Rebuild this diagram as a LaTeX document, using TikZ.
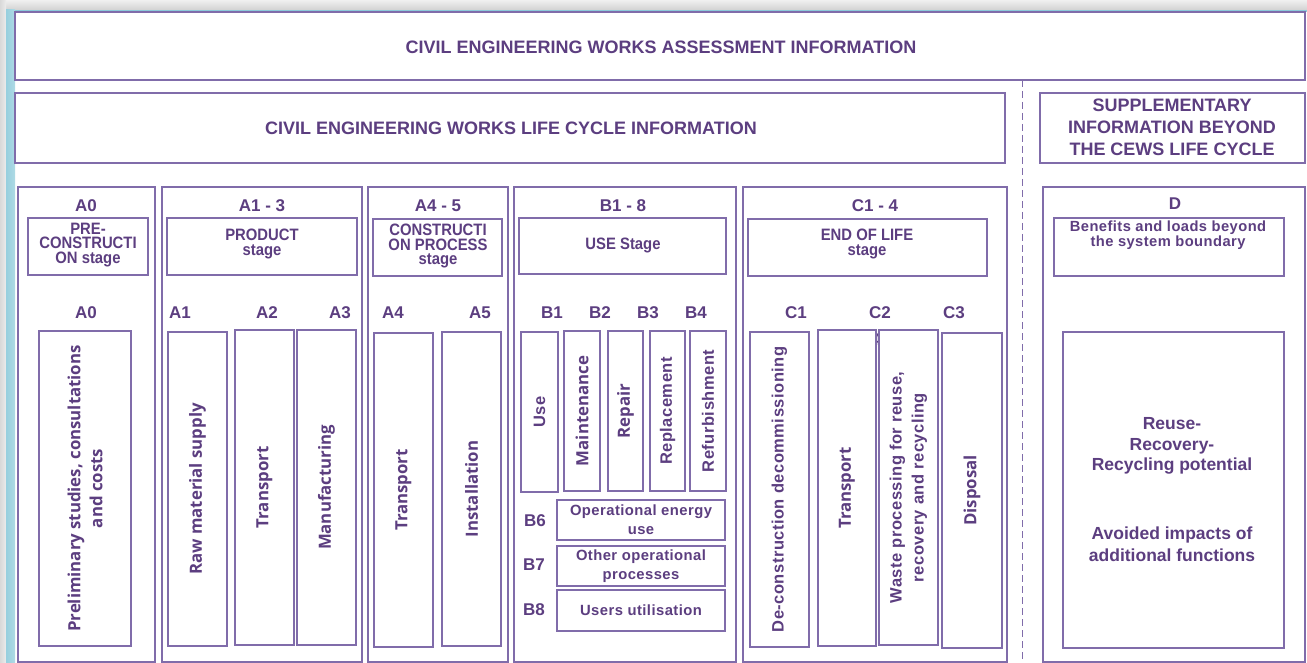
\documentclass[tikz,border=0pt]{standalone}
\usepackage{fontspec}
\setmainfont{Liberation Sans}
\newfontfamily\vfont{Open Sans}
\newfontfamily\trkfont[LetterSpace=3]{Liberation Sans}
\newfontfamily\cndfont[FakeStretch=0.9]{Liberation Sans}
\definecolor{lc}{RGB}{128,108,170}
\definecolor{tc}{RGB}{92,62,128}
\definecolor{frcyan}{RGB}{140,202,218}
\newcommand\mybox[5]{%
  \pgfmathsetmacro\bw{#4-#2}\pgfmathsetmacro\bh{#5-#3}%
  \node[box, minimum width=\bw pt, minimum height=\bh pt] (#1) at ({(#2+#4)/2},{(#3+#5)/2}) {};}
\tikzset{
  box/.style={draw=lc, line width=1.1pt, fill=white, inner sep=0pt},
  ttl/.style={text=tc, font=\bfseries\fontsize{18}{22}\selectfont, align=center, inner sep=0pt},
  hdr/.style={text=tc, font=\bfseries\fontsize{17}{17}\selectfont, inner sep=0pt},
  stg/.style={text=tc, font=\cndfont\bfseries\fontsize{16.5}{14.5}\selectfont, align=center, inner sep=0pt},
  vt/.style={text=tc, font=\vfont\bfseries\fontsize{16.8}{22}\selectfont, align=center, rotate=90, inner sep=0pt},
  vta/.style={text=tc, font=\trkfont\bfseries\fontsize{16.5}{22}\selectfont, align=center, rotate=90, inner sep=0pt},
  ht/.style={text=tc, font=\trkfont\bfseries\fontsize{14.8}{19}\selectfont, align=center, inner sep=0pt},
  dt/.style={text=tc, font=\bfseries\fontsize{17.5}{20.5}\selectfont, align=center, inner sep=0pt},
  dash line/.style={draw=lc, line width=1pt, dash pattern=on 7pt off 4pt}
}
\begin{document}
\begin{tikzpicture}[x=1pt, y=-1pt]
\useasboundingbox (0,0) rectangle (1307,663);
% frame
\fill[white] (0,0) rectangle (1307,663);
\shade[top color=gray!12, bottom color=gray!35] (0,0) rectangle (1307,10);
\fill[frcyan] (0,10) rectangle (1307,12);
\shade[left color=gray!30, right color=gray!15] (0,0) rectangle (6,663);
\shade[left color=frcyan!90, right color=frcyan!70] (6,10) rectangle (15,663);

% top boxes
\mybox{top}{15}{12}{1305}{80}
\node[ttl] (toptxt) at (661,47) {CIVIL ENGINEERING WORKS ASSESSMENT INFORMATION};
\mybox{lc}{15}{93}{1005}{163}
\node[ttl] (lctxt) at (511,128) {CIVIL ENGINEERING WORKS LIFE CYCLE INFORMATION};
\mybox{sup}{1040}{93}{1305}{163}
\node[ttl] (suptxt) at (1172,127) {SUPPLEMENTARY\\INFORMATION BEYOND\\THE CEWS LIFE CYCLE};

\coordinate (d1) at (1022,80);
\coordinate (d2) at (1022,663);
\draw[dash line] (d1) -- (d2);

% columns
\mybox{cA0}{18}{187}{155}{662}
\mybox{cA13}{162}{187}{362}{662}
\mybox{cA45}{368}{187}{508}{662}
\mybox{cB}{514}{187}{736}{662}
\mybox{cC}{743}{187}{1007}{662}
\mybox{cD}{1043}{187}{1305}{662}

\node[hdr] (hA0) at (86,206) {A0};
\node[hdr] (hA13) at (262,206) {A1 - 3};
\node[hdr] (hA45) at (438,206) {A4 - 5};
\node[hdr] (hB) at (623,206) {B1 - 8};
\node[hdr] (hC) at (875,206) {C1 - 4};
\node[hdr] (hD) at (1175,204) {D};

% stage boxes
\mybox{sA0}{28}{218}{148}{275}
\node[stg] (tsA0) at (88,245) {PRE-\\CONSTRUCTI\\ON stage};
\mybox{sA13}{167}{218}{357}{275}
\node[stg] (tsA13) at (262,244) {PRODUCT\\stage};
\mybox{sA45}{373}{219}{502}{276}
\node[stg] (tsA45) at (438,246) {CONSTRUCTI\\ON PROCESS\\stage};
\mybox{sB}{519}{218}{726}{274}
\node[stg] (tsB) at (623,245) {USE Stage};
\mybox{sC}{748}{219}{987}{276}
\node[stg] (tsC) at (867,244) {END OF LIFE\\stage};
\mybox{sD}{1054}{218}{1284}{276}
\node[ht, font=\trkfont\bfseries\fontsize{14.7}{15}\selectfont] (tsD) at (1168,235) {Benefits and loads beyond\\the system boundary};

% module labels
\node[hdr] (lA0) at (86,313) {A0};
\node[hdr] (lA1) at (180,313) {A1};
\node[hdr] (lA2) at (267,313) {A2};
\node[hdr] (lA3) at (340,313) {A3};
\node[hdr] (lA4) at (393,313) {A4};
\node[hdr] (lA5) at (480,313) {A5};
\node[hdr] (lB1) at (552,313) {B1};
\node[hdr] (lB2) at (600,313) {B2};
\node[hdr] (lB3) at (648,313) {B3};
\node[hdr] (lB4) at (696,313) {B4};
\node[hdr] (lB5) at (624,339) {B5};
\node[hdr] (lC1) at (796,313) {C1};
\node[hdr] (lC2) at (880,313) {C2};
\node[hdr] (lC3) at (954,313) {C3};
\node[hdr] (lC4) at (871,340) {C4};

% module boxes
\mybox{mA0}{39}{331}{131}{646}
\node[vt] (tA0) at (mA0) {Preliminary studies, consultations\\and costs};
\mybox{mA1}{168}{332}{227}{646}
\node[vt] (tA1) at (mA1) {Raw material supply};
\mybox{mA2}{235}{330}{294}{645}
\node[vt] (tA2) at (mA2) {Transport};
\mybox{mA3}{297}{330}{356}{645}
\node[vt] (tA3) at (mA3) {Manufacturing};
\mybox{mA4}{374}{333}{433}{647}
\node[vt] (tA4) at (mA4) {Transport};
\mybox{mA5}{442}{332}{501}{646}
\node[vt] (tA5) at (mA5) {Installation};

\mybox{mB1}{521}{332}{558}{492}
\node[vta] (tB1) at (mB1) {Use};
\mybox{mB2}{564}{331}{600}{491}
\node[vt] (tB2) at (mB2) {Maintenance};
\mybox{mB3}{608}{331}{643}{491}
\node[vt] (tB3) at (mB3) {Repair};
\mybox{mB4}{650}{331}{685}{491}
\node[vta] (tB4) at (mB4) {Replacement};
\mybox{mB45}{690}{331}{726}{491}
\node[vta] (tB45) at (mB45) {Refurbishment};

\node[hdr] (lB6) at (535,521) {B6};
\mybox{mB6}{557}{500}{725}{540}
\node[ht] (tB6) at (mB6) {Operational energy\\use};
\node[hdr] (lB7) at (534,565) {B7};
\mybox{mB7}{557}{546}{725}{586}
\node[ht] (tB7) at (mB7) {Other operational\\processes};
\node[hdr] (lB8) at (534,610) {B8};
\mybox{mB8}{557}{590}{725}{631}
\node[ht] (tB8) at (mB8) {Users utilisation};

\mybox{mC1}{750}{332}{809}{647}
\node[vta] (tC1) at (mC1) {De-construction decommissioning};
\mybox{mC2}{818}{330}{876}{646}
\node[vt] (tC2) at (mC2) {Transport};
\mybox{mC3}{879}{330}{938}{645}
\node[vta] (tC3) at (mC3) {Waste processing for reuse,\\recovery and recycling};
\mybox{mC4}{942}{333}{1002}{648}
\node[vt] (tC4) at (mC4) {Disposal};

\mybox{mD}{1063}{332}{1284}{648}
\node[dt] (tD1) at (1172,446) {Reuse-\\Recovery-\\Recycling potential};
\node[dt, font=\bfseries\fontsize{17.5}{22}\selectfont] (tD2) at (1172,544) {Avoided impacts of\\additional functions};
\end{tikzpicture}
\end{document}
